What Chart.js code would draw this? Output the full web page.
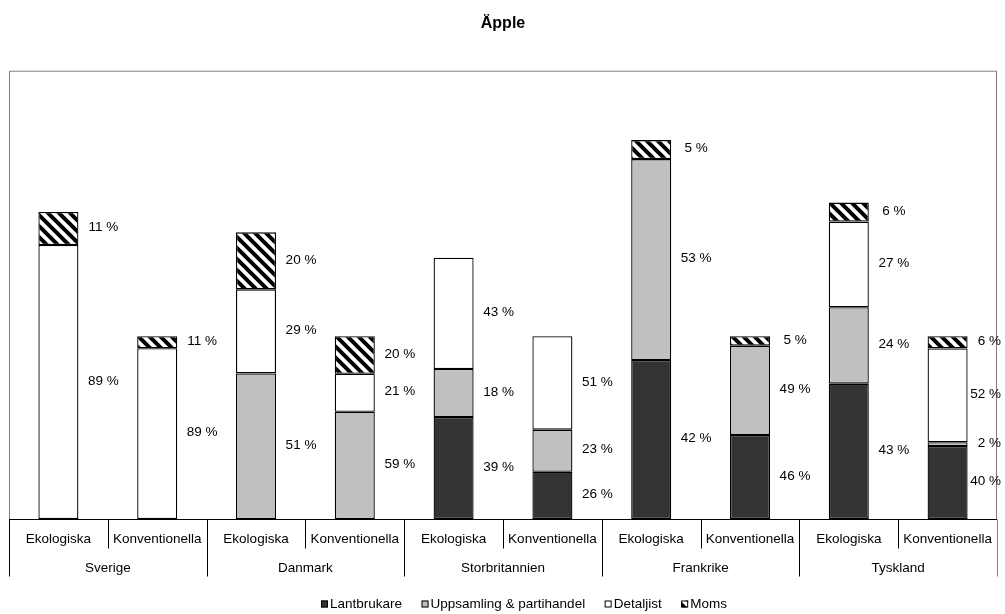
<!DOCTYPE html>
<html lang="sv">
<head>
<meta charset="utf-8">
<title>Äpple</title>
<script src="https://cdn.jsdelivr.net/npm/chart.js@4/dist/chart.umd.min.js"></script>
<style>
  html, body { margin: 0; padding: 0; background: #fff; }
  #ram { width: 1005px; height: 614px; }
</style>
</head>
<body>
<div id="ram"><canvas id="chartApple" width="1005" height="614"></canvas></div>
<script>
// ----------------------------------------------------------
// DATA (konventionella = 100)
// ----------------------------------------------------------
const kategorier = ['Ekologiska', 'Konventionella', 'Ekologiska', 'Konventionella',
                    'Ekologiska', 'Konventionella', 'Ekologiska', 'Konventionella',
                    'Ekologiska', 'Konventionella'];
const lander = ['Sverige', 'Danmark', 'Storbritannien', 'Frankrike', 'Tyskland'];

const lantbrukare = [null, null, null, null, 55.8, 25.9, 87.0, 46.0, 74.1, 40.0];
const uppsamling  = [null, null, 79.7, 58.7, 26.3, 23.0, 110.0, 48.9, 41.8, 2.0];
const detaljist   = [150.0, 93.5, 46.0, 20.8, 60.9, 51.1, null, null, 46.9, 51.4];
const moms        = [18.1, 6.5, 31.2, 20.5, null, null, 10.4, 5.1, 10.4, 6.6];

// procentetiketterna som de står i diagrammet
const procentLantbrukare = [null, null, null, null, 39, 26, 42, 46, 43, 40];
const procentUppsamling  = [null, null, 51, 59, 18, 23, 53, 49, 24, 2];
const procentDetaljist   = [89, 89, 29, 21, 43, 51, null, null, 27, 52];
const procentMoms        = [11, 11, 20, 20, null, null, 5, 5, 6, 6];

const typsnitt = '"Liberation Sans", Arial, sans-serif';
const canvas = document.getElementById('chartApple');


// ----------------------------------------------------------
// Randigt mönster för Moms (breda nedåtgående diagonaler)
// ----------------------------------------------------------
function skapaRandning() {
    const s = 11;
    const ruta = document.createElement('canvas');
    ruta.width = s;
    ruta.height = s;
    const g = ruta.getContext('2d');
    g.fillStyle = '#fff';
    g.fillRect(0, 0, s, s);
    g.strokeStyle = '#000';
    g.lineWidth = 4;
    g.beginPath();
    g.moveTo(-s, -s);  g.lineTo(2 * s, 2 * s);
    g.moveTo(-s, 0);   g.lineTo(s, 2 * s);
    g.moveTo(0, -s);   g.lineTo(2 * s, s);
    g.stroke();
    return canvas.getContext('2d').createPattern(ruta, 'repeat');
}


// ----------------------------------------------------------
// Plugin: ram, tvånivåers kategoriaxel, etiketter och förklaring
// ----------------------------------------------------------
const dekor = {
    id: 'dekor',
    beforeDatasetsDraw(chart) {
        const { ctx, chartArea: a } = chart;
        ctx.save();
        ctx.strokeStyle = '#808080';
        ctx.lineWidth = 1;
        ctx.strokeRect(a.left + 0.5, a.top + 0.5, a.right - a.left - 1, a.bottom - a.top);
        ctx.restore();
    },
    afterDraw(chart) {
        const { ctx, chartArea: a } = chart;
        const xs = chart.scales.x;
        const procent = [procentLantbrukare, procentUppsamling, procentDetaljist, procentMoms];

        ctx.save();
        ctx.font = '13.5px ' + typsnitt;
        ctx.fillStyle = '#000';
        ctx.textBaseline = 'middle';
        ctx.textAlign = 'center';

        // procentetiketter till höger om varje segment
        procent.forEach((rad, d) => {
            chart.getDatasetMeta(d).data.forEach((bar, i) => {
                if (rad[i] == null) return;
                const p = bar.getProps(['x', 'y', 'base', 'width'], true);
                const text = rad[i] + ' %';
                const w = ctx.measureText(text).width;
                const x = Math.min(p.x + p.width / 2 + 25, a.right + 4 - w / 2);
                ctx.fillText(text, x, (p.y + p.base) / 2 - 1);
            });
        });

        // axellinje
        const yAxel = Math.round(a.bottom) + 0.5;
        ctx.strokeStyle = '#000';
        ctx.lineWidth = 1;
        ctx.beginPath();
        ctx.moveTo(a.left, yAxel);
        ctx.lineTo(a.right, yAxel);
        ctx.stroke();

        // avdelare mellan kategorier och länder
        const steg = xs.getPixelForValue(1) - xs.getPixelForValue(0);
        for (let k = 0; k <= kategorier.length; k++) {
            const x = Math.round(xs.getPixelForValue(0) - steg / 2 + k * steg) + 0.5;
            const lang = k % 2 === 0;
            ctx.strokeStyle = k === kategorier.length ? '#808080' : '#000';
            ctx.beginPath();
            ctx.moveTo(x, yAxel);
            ctx.lineTo(x, yAxel + (lang ? 57 : 29));
            ctx.stroke();
        }

        // kategorinamn och ländernamn
        kategorier.forEach((namn, i) => {
            ctx.fillText(namn, xs.getPixelForValue(i), a.bottom + 20.5);
        });
        lander.forEach((namn, j) => {
            const x = (xs.getPixelForValue(2 * j) + xs.getPixelForValue(2 * j + 1)) / 2;
            ctx.fillText(namn, x, a.bottom + 49);
        });

        // förklaring
        ctx.textAlign = 'left';
        let x = 321;
        const yLeg = 604;
        chart.data.datasets.forEach(ds => {
            ctx.fillStyle = ds.backgroundColor;
            ctx.fillRect(x, yLeg - 3.5, 7, 7);
            ctx.strokeStyle = '#000';
            ctx.strokeRect(x + 0.5, yLeg - 3, 6, 6);
            ctx.fillStyle = '#000';
            ctx.fillText(ds.label, x + 9, yLeg);
            x += 9 + ctx.measureText(ds.label).width + 19.5;
        });
        ctx.restore();
    }
};


// ----------------------------------------------------------
// STAPELDIAGRAM: Äpple
// ----------------------------------------------------------
const gemensamt = { borderColor: '#000', borderWidth: 1.3, borderSkipped: false };

new Chart(canvas, {
    type: 'bar',
    data: {
        labels: kategorier,
        datasets: [
            { label: 'Lantbrukare', data: lantbrukare, backgroundColor: '#333333', ...gemensamt },
            { label: 'Uppsamling & partihandel', data: uppsamling, backgroundColor: '#c0c0c0', ...gemensamt },
            { label: 'Detaljist', data: detaljist, backgroundColor: '#ffffff', ...gemensamt },
            { label: 'Moms', data: moms, backgroundColor: skapaRandning(), ...gemensamt }
        ]
    },
    options: {
        responsive: false,
        animation: false,
        devicePixelRatio: 1,
        categoryPercentage: 1,
        barPercentage: 0.405,
        layout: { padding: { left: 9, right: 8, top: 0, bottom: 95 } },
        plugins: {
            legend: { display: false },
            tooltip: { enabled: false },
            title: {
                display: true,
                text: 'Äpple',
                color: '#000',
                font: { family: typsnitt, size: 16, weight: 'bold' },
                padding: { top: 14, bottom: 37.5 }
            }
        },
        scales: {
            x: { stacked: true, display: false },
            y: { stacked: true, display: false, min: 0, max: 245.4 }
        }
    },
    plugins: [dekor]
});
</script>
</body>
</html>
